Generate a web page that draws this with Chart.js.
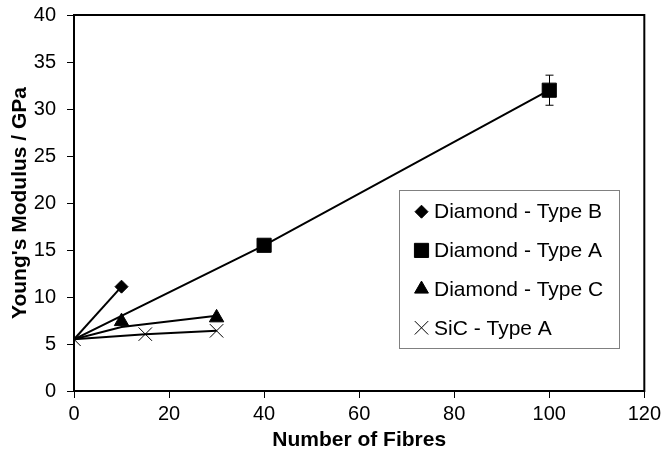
<!DOCTYPE html>
<html>
<head>
<meta charset="utf-8">
<script src="https://cdn.jsdelivr.net/npm/chart.js@4.4.0/dist/chart.umd.min.js"></script>
<style>
  html, body { margin: 0; padding: 0; background: #fff; }
  #wrap { width: 665px; height: 453px; }
</style>
</head>
<body>
<div id="wrap"><canvas id="myChart"></canvas></div>
<script>
// data
const seriesNames = ['Diamond - Type B', 'Diamond - Type A', 'Diamond - Type C', 'SiC - Type A'];

const typeBX = [0, 10];
const typeBY = [5.5, 11.1];

const typeAX = [0, 40, 100];
const typeAY = [5.5, 15.5, 32.0];
const typeAErr = [0, 0, 1.6];

const typeCX = [0, 10, 30];
const typeCY = [5.5, 7.4, 7.8];
const typeCLineY = [5.5, 6.8, 8.0];

const sicX = [0, 15, 30];
const sicY = [5.5, 6.05, 6.4];

const xTicks = [0, 20, 40, 60, 80, 100, 120];
const yTicks = [0, 5, 10, 15, 20, 25, 30, 35, 40];

const FONT = "'Liberation Sans', Arial, sans-serif";

function pts(xs, ys) {
    return xs.map((x, i) => ({ x: x, y: ys[i] }));
}

// no marker on the shared start point, only the SiC cross shows there
function radii(xs, r) {
    return xs.map((x, i) => (i === 0 ? 0 : r));
}

// plot frame (top and right edges)
const framePlugin = {
    id: 'frame',
    beforeDatasetsDraw(chart) {
        const { ctx, chartArea: a } = chart;
        ctx.save();
        ctx.strokeStyle = '#000';
        ctx.lineWidth = 2;
        ctx.strokeRect(a.left, a.top, a.right - a.left, a.bottom - a.top);
        ctx.restore();
    }
};

// error bars for type A
const errorBarPlugin = {
    id: 'errorBars',
    afterDatasetsDraw(chart) {
        const { ctx, scales: { x, y } } = chart;
        ctx.save();
        ctx.strokeStyle = '#000';
        ctx.lineWidth = 1;
        typeAX.forEach((v, i) => {
            const e = typeAErr[i];
            if (!e) return;
            const px = Math.round(x.getPixelForValue(v)) + 0.5;
            const top = y.getPixelForValue(typeAY[i] + e);
            const bot = y.getPixelForValue(typeAY[i] - e);
            ctx.beginPath();
            ctx.moveTo(px, top); ctx.lineTo(px, bot);
            ctx.moveTo(px - 4, top); ctx.lineTo(px + 4, top);
            ctx.moveTo(px - 4, bot); ctx.lineTo(px + 4, bot);
            ctx.stroke();
        });
        ctx.restore();
    }
};

// legend box inside the plot
const boxLegendPlugin = {
    id: 'boxLegend',
    afterDraw(chart) {
        const ctx = chart.ctx;
        const left = 399, top = 190, right = 619, bottom = 348;
        ctx.save();
        ctx.fillStyle = '#fff';
        ctx.fillRect(left, top, right - left, bottom - top);
        ctx.strokeStyle = '#808080';
        ctx.lineWidth = 1;
        ctx.strokeRect(left + 0.5, top + 0.5, right - left, bottom - top);
        const rowH = 38.7;
        const firstY = 211.7;
        const markers = chart.data.datasets.filter(d => d.inLegend);
        markers.forEach((d, i) => {
            const cy = firstY + i * rowH;
            ctx.fillStyle = '#000';
            ctx.strokeStyle = '#000';
            ctx.lineWidth = 1;
            Chart.helpers.drawPoint(ctx, {
                pointStyle: d.pointStyle,
                radius: d.legendRadius,
                borderWidth: 1
            }, 421.5, cy);
            ctx.font = '21px ' + FONT;
            ctx.textBaseline = 'middle';
            ctx.textAlign = 'left';
            ctx.fillText(d.label, 434, cy + 1);
        });
        ctx.restore();
    }
};

const pointBase = {
    borderColor: '#000',
    backgroundColor: '#000',
    pointBackgroundColor: '#000',
    pointBorderColor: '#000',
    borderWidth: 2
};

const myChartRef = document.getElementById('myChart').getContext('2d');

new Chart(myChartRef, {
    type: 'scatter',
    data: {
        datasets: [
            Object.assign({}, pointBase, {
                label: seriesNames[0],
                data: pts(typeBX, typeBY),
                showLine: true,
                pointStyle: 'rectRot',
                pointRadius: radii(typeBX, 6.5),
                pointBorderWidth: 1,
                legendRadius: 6.5,
                inLegend: true
            }),
            Object.assign({}, pointBase, {
                label: seriesNames[1],
                data: pts(typeAX, typeAY),
                showLine: true,
                pointStyle: 'rect',
                pointRadius: radii(typeAX, 10),
                pointBorderWidth: 1,
                legendRadius: 10,
                inLegend: true
            }),
            Object.assign({}, pointBase, {
                label: 'Diamond - Type C line',
                data: pts(typeCX, typeCLineY),
                showLine: true,
                pointRadius: 0
            }),
            Object.assign({}, pointBase, {
                label: seriesNames[2],
                data: pts(typeCX, typeCY),
                showLine: false,
                pointStyle: 'triangle',
                pointRadius: radii(typeCX, 8.3),
                pointBorderWidth: 1,
                legendRadius: 8,
                inLegend: true
            }),
            Object.assign({}, pointBase, {
                label: seriesNames[3],
                data: pts(sicX, sicY),
                showLine: true,
                pointStyle: 'crossRot',
                pointRadius: 9.5,
                pointBorderWidth: 1,
                legendRadius: 9.5,
                inLegend: true
            })
        ]
    },
    options: {
        responsive: true,
        maintainAspectRatio: false,
        animation: false,
        events: [],
        layout: { padding: { left: 0, right: 18, top: 15, bottom: 0 } },
        plugins: {
            legend: { display: false },
            tooltip: { enabled: false }
        },
        scales: {
            x: {
                type: 'linear',
                min: 0,
                max: 120,
                afterBuildTicks: s => { s.ticks = xTicks.map(v => ({ value: v })); },
                afterFit: s => { s.height = 62; },
                border: { color: '#000', width: 2 },
                grid: { drawOnChartArea: false, drawTicks: true, tickLength: 7, color: '#000', lineWidth: 1 },
                ticks: { color: '#000', font: { family: FONT, size: 20 }, padding: 4, maxRotation: 0 },
                title: {
                    display: true,
                    text: 'Number of Fibres',
                    color: '#000',
                    font: { family: FONT, size: 21, weight: 'bold' },
                    padding: { top: -10, bottom: 0 }
                }
            },
            y: {
                type: 'linear',
                min: 0,
                max: 40,
                afterBuildTicks: s => { s.ticks = yTicks.map(v => ({ value: v })); },
                afterFit: s => { s.width = 74; s.paddingTop = 0; s.paddingBottom = 0; },
                border: { color: '#000', width: 2 },
                grid: { drawOnChartArea: false, drawTicks: true, tickLength: 7, color: '#000', lineWidth: 1 },
                ticks: { color: '#000', font: { family: FONT, size: 20 }, padding: 11 },
                title: {
                    display: true,
                    text: "Young's Modulus / GPa",
                    color: '#000',
                    font: { family: FONT, size: 21, weight: 'bold' },
                    padding: { top: 8, bottom: 0 }
                }
            }
        }
    },
    plugins: [framePlugin, errorBarPlugin, boxLegendPlugin]
});
</script>
</body>
</html>
